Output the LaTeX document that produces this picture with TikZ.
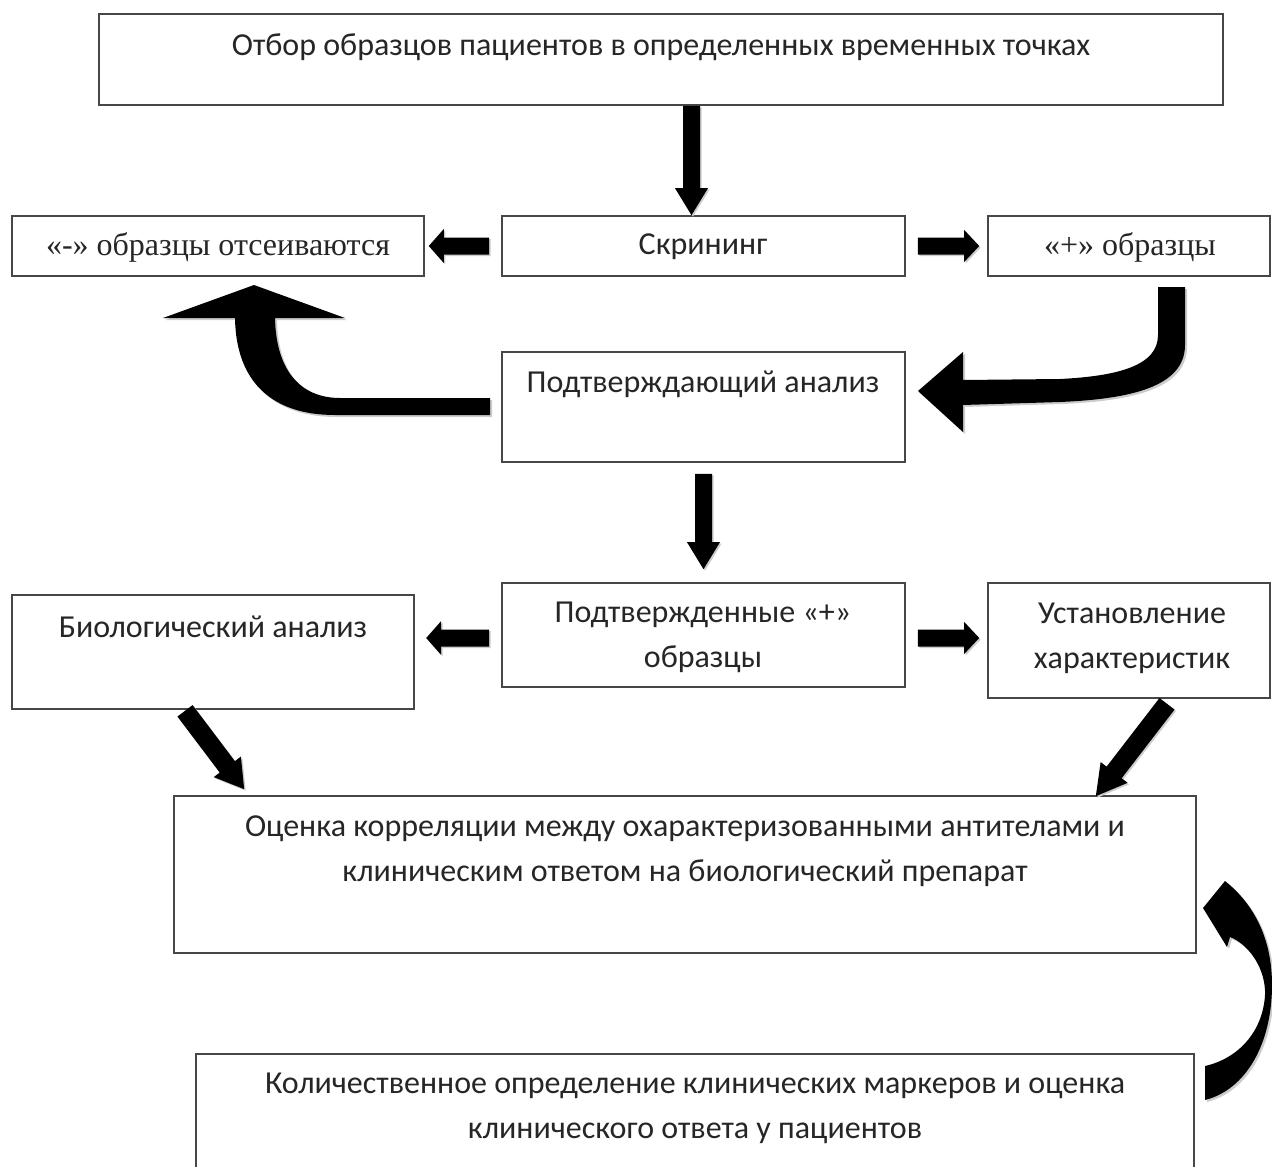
\documentclass[tikz,border=0pt]{standalone}
\usepackage{fontspec}
\setmainfont{Carlito}
\newfontfamily\serifru{Liberation Serif}
\usetikzlibrary{calc}
\newcommand\blockarr[5]{%
  \path ($(#2)!#5!(#1)$) coordinate (hb);
  \begin{scope}[transform canvas={shift={(1.5pt,-1.5pt)}}]
  \fill[shd] ($(#1)!#3!90:(#2)$) -- ($(hb)!#3!90:(#2)$) -- ($(hb)!#4!90:(#2)$) -- (#2) -- ($(hb)!#4!-90:(#2)$) -- ($(hb)!#3!-90:(#2)$) -- ($(#1)!#3!-90:(#2)$) -- cycle;
  \end{scope}
  \fill[arr] ($(#1)!#3!90:(#2)$) -- ($(hb)!#3!90:(#2)$) -- ($(hb)!#4!90:(#2)$) -- (#2) -- ($(hb)!#4!-90:(#2)$) -- ($(hb)!#3!-90:(#2)$) -- ($(#1)!#3!-90:(#2)$) -- cycle;
}
\begin{document}
\begin{tikzpicture}[x=1pt,y=-1pt,
  box/.style={draw=black!72, line width=1.6pt, fill=white, inner sep=0pt, rectangle},
  txt/.style={font=\fontsize{32}{45}\selectfont, text=black!85, align=center, inner sep=0pt},
  stxt/.style={font=\serifru\fontsize{32}{36}\selectfont, text=black!85, inner sep=0pt},
  arr/.style={fill=black},
  shd/.style={fill=black!20}]
\useasboundingbox (0,0) rectangle (1272,1167);
\clip (0,0) rectangle (1272,1167);
\fill[white] (0,0) rectangle (1272,1167);

% boxes
\node[box, minimum width=1124, minimum height=91] (top) at (661,59.5) {};
\node[box, minimum width=403, minimum height=60] (scr) at (703.5,246) {};
\node[box, minimum width=412, minimum height=60] (neg) at (218,246) {};
\node[box, minimum width=282, minimum height=60] (pos) at (1129,246) {};
\node[box, minimum width=403, minimum height=110] (conf) at (703.5,407) {};
\node[box, minimum width=403, minimum height=104] (cpos) at (703.5,635) {};
\node[box, minimum width=402, minimum height=114] (bio) at (213,652) {};
\node[box, minimum width=282, minimum height=115] (char) at (1129,640.5) {};
\node[box, minimum width=1022, minimum height=157] (corr) at (685,874.5) {};
\node[box, minimum width=998, minimum height=122] (quant) at (695,1115) {};

% texts
\node[txt] (ttop) at (661,47) {Отбор образцов пациентов в определенных временных точках};
\node[txt] (tscr) at (703,247) {Скрининг};
\node[stxt] (tneg) at (218,247) {«-» образцы отсеиваются};
\node[stxt] (tpos) at (1130,247) {«+» образцы};
\node[txt] (tconf) at (703,384) {Подтверждающий анализ};
\node[txt] (tcpos) at (703,637.5) {Подтвержденные «+»\\образцы};
\node[txt] (tbio) at (213,627) {Биологический анализ};
\node[txt] (tchar) at (1132,638.5) {Установление\\характеристик};
\node[txt] (tcorr) at (685,851) {Оценка корреляции между охарактеризованными антителами и\\клиническим ответом на биологический препарат};
\node[txt] (tquant) at (695,1108.5) {Количественное определение клинических маркеров и оценка\\клинического ответа у пациентов};

% connector end points
\coordinate (a1s) at ($(top.south)+(30.5,0)$);
\coordinate (a1e) at (a1s |- scr.north);
\coordinate (a2s) at ($(scr.west)+(-12,0)$);
\coordinate (a2e) at ($(neg.east)+(4,0)$);
\coordinate (a3s) at ($(scr.east)+(12,0)$);
\coordinate (a3e) at ($(pos.west)+(-8,0)$);
\coordinate (a4s) at ($(conf.south)+(0,11)$);
\coordinate (a4e) at ($(cpos.north)+(0,-13)$);
\coordinate (a5s) at ($(cpos.west)+(-12,3)$);
\coordinate (a5e) at ($(a5s)+(-63,0)$);
\coordinate (a6s) at ($(cpos.east)+(12,3)$);
\coordinate (a6e) at ($(char.west |- a6s)+(-8,0)$);
\coordinate (a7s) at ($(bio.south)+(-28,1)$);
\coordinate (a7e) at ($(corr.north west)+(71,-6)$);
\coordinate (a8s) at ($(char.south)+(38,5)$);
\coordinate (a8e) at ($(corr.north east)+(-101,1)$);

\blockarr{a1s}{a1e}{8.5pt}{16.5pt}{27pt}
\blockarr{a2s}{a2e}{8.5pt}{17pt}{15pt}
\blockarr{a3s}{a3e}{8.5pt}{16pt}{15pt}
\blockarr{a4s}{a4e}{8.5pt}{16.5pt}{27pt}
\blockarr{a5s}{a5e}{8.5pt}{17pt}{15pt}
\blockarr{a6s}{a6e}{8.5pt}{16pt}{15pt}
\blockarr{a7s}{a7e}{9.5pt}{17pt}{28pt}
\blockarr{a8s}{a8e}{9.5pt}{17pt}{30pt}

% curved arrow: confirmatory analysis -> negatives
\def\curvL{(490,398) -- (340,398) .. controls (300,398) and (276,370) .. (275,318) -- (345,318) -- (254,285) -- (163,318) -- (235,318) .. controls (236,382) and (272,415) .. (335,415) -- (490,415) -- cycle}
\begin{scope}[transform canvas={shift={(2pt,-2pt)}}]
\fill[shd] \curvL;
\end{scope}
\fill[arr] \curvL;

% curved arrow: positives -> confirmatory analysis
\def\curvR{(1158,287) -- (1185,287) -- (1185,345) .. controls (1185,387) and (1130,399) .. (1060,402) -- (963,405) -- (963,432) -- (918,391) -- (963,352) -- (963,380) -- (1060,379) .. controls (1120,376) and (1158,365) .. (1158,335) -- cycle}
\begin{scope}[transform canvas={shift={(2pt,-2pt)}}]
\fill[shd] \curvR;
\end{scope}
\fill[arr] \curvR;

% curved arrow: quantification -> correlation
\def\curvB{(1205,1100) -- (1205,1066) .. controls (1240,1058) and (1263,1030) .. (1265,995) .. controls (1266,970) and (1250,945) .. (1230,937) -- (1227,947) -- (1203,908) -- (1225,881) .. controls (1255,905) and (1272,940) .. (1272,985) .. controls (1272,1045) and (1245,1090) .. (1205,1100) -- cycle}
\begin{scope}[transform canvas={shift={(2pt,-2pt)}}]
\fill[shd] \curvB;
\end{scope}
\fill[arr] \curvB;
\end{tikzpicture}
\end{document}
